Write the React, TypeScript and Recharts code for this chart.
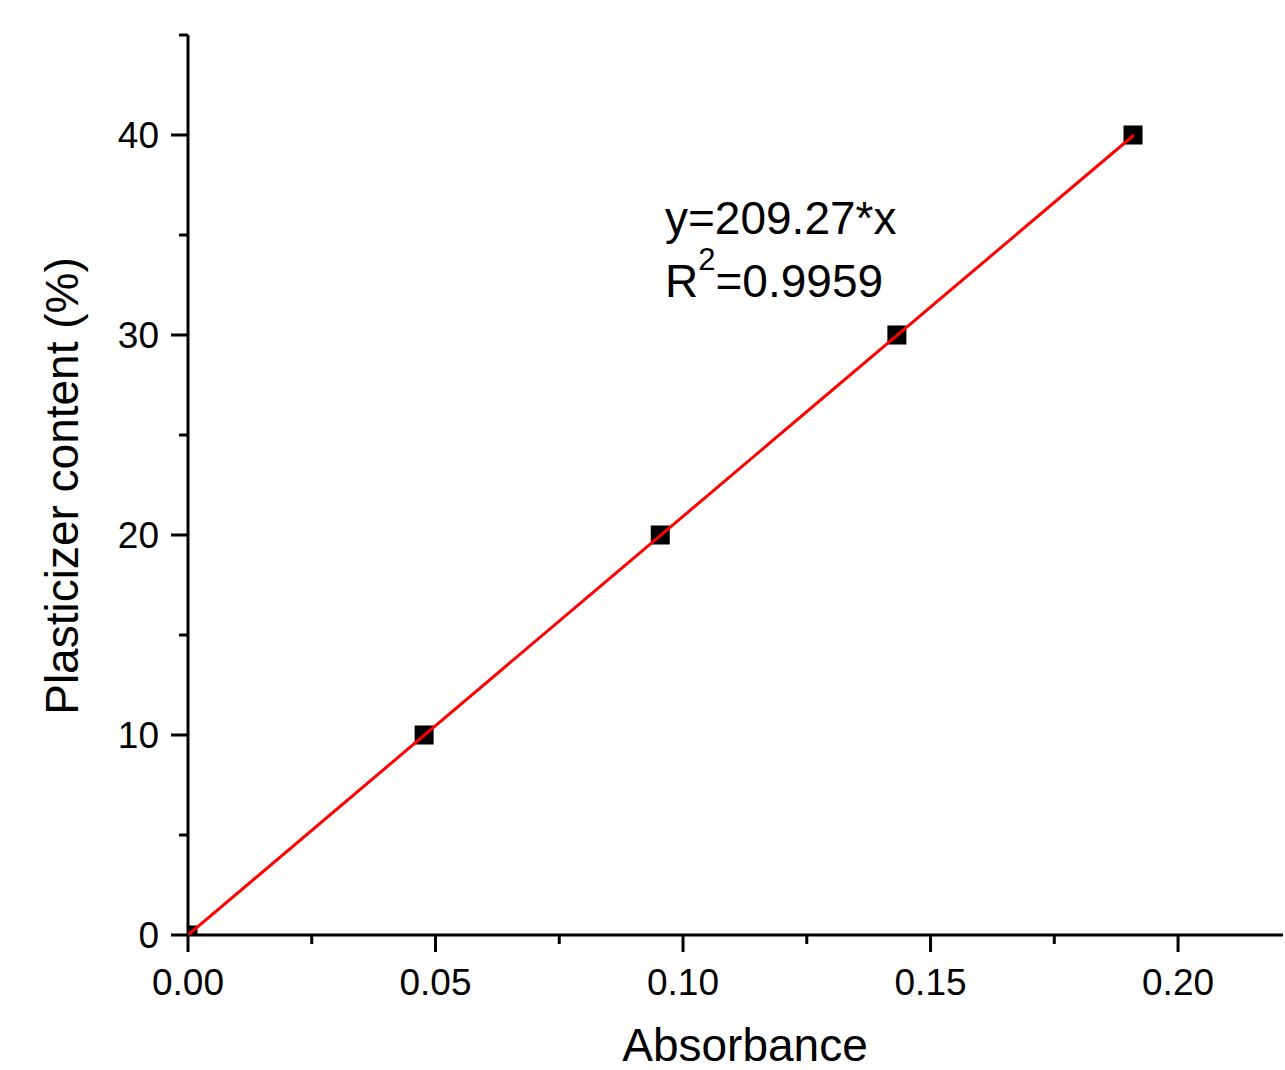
import React from 'react';
import { ScatterChart, Scatter, XAxis, YAxis, Customized } from 'recharts';

const absorbance = [0, 0.0477, 0.0954, 0.1432, 0.1909];
const content = [0, 10, 20, 30, 40];
const fitX = [0, 0.1911];
const fitY = [0, 40];
const xTicks = [0, 0.025, 0.05, 0.075, 0.1, 0.125, 0.15, 0.175, 0.2];
const yTicks = [0, 5, 10, 15, 20, 25, 30, 35, 40, 45];

const FONT = '"Liberation Sans", Arial, sans-serif';

const points = absorbance.map((x, i) => ({ x, y: content[i] }));
const fitLine = fitX.map((x, i) => ({ x, y: fitY[i] }));

const isMajor = (v: number, step: number) =>
  Math.abs(v / step - Math.round(v / step)) < 1e-6;

const XTick = ({ x, y, payload }: any) => {
  const major = isMajor(payload.value, 0.05);
  return (
    <g>
      <line x1={x} x2={x} y1={y} y2={y + (major ? 17 : 9)} stroke="#000" strokeWidth={3} />
      {major && (
        <text x={x} y={y + 60} textAnchor="middle" fontSize={37} fontFamily={FONT} fill="#000">
          {payload.value.toFixed(2)}
        </text>
      )}
    </g>
  );
};

const YTick = ({ x, y, payload }: any) => {
  const major = isMajor(payload.value, 10);
  return (
    <g>
      <line x1={x} x2={x - (major ? 17 : 9)} y1={y} y2={y} stroke="#000" strokeWidth={3} />
      {major && (
        <text x={x - 29} y={y + 13} textAnchor="end" fontSize={37} fontFamily={FONT} fill="#000">
          {payload.value}
        </text>
      )}
    </g>
  );
};

const Square = ({ cx, cy }: any) => (
  <rect x={cx - 9.5} y={cy - 9.5} width={19} height={19} fill="#000" />
);

const NoShape = () => <g />;

const Annotations = () => (
  <g fontFamily={FONT} fill="#000">
    <text x={665} y={234} fontSize={46}>y=209.27*x</text>
    <text x={665} y={297} fontSize={46}>
      R<tspan style={{ fontSize: 31 }} dy={-27}>2</tspan>
      <tspan dy={27}>=0.9959</tspan>
    </text>
    <text x={745} y={1061} fontSize={46} textAnchor="middle">Absorbance</text>
    <text
      x={78}
      y={486}
      fontSize={46}
      textAnchor="middle"
      transform="rotate(-90 78 486)"
    >
      Plasticizer content (%)
    </text>
  </g>
);

export default function App() {
  return (
    <div style={{ position: 'absolute', left: 0, top: 0, background: '#fff' }}>
      <ScatterChart
        width={1285}
        height={1070}
        margin={{ top: 35, right: 2, left: 0, bottom: 0 }}
      >
        <XAxis
          type="number"
          dataKey="x"
          domain={[0, 0.2212]}
          ticks={xTicks}
          interval={0}
          allowDataOverflow
          tickSize={0}
          tickMargin={0}
          tickLine={false}
          tick={<XTick />}
          axisLine={{ stroke: '#000', strokeWidth: 3 }}
          height={135}
        />
        <YAxis
          type="number"
          dataKey="y"
          domain={[0, 45]}
          ticks={yTicks}
          interval={0}
          allowDataOverflow
          tickSize={0}
          tickMargin={0}
          tickLine={false}
          tick={<YTick />}
          axisLine={{ stroke: '#000', strokeWidth: 3 }}
          width={188}
        />
        <Scatter data={points} shape={<Square />} isAnimationActive={false} />
        <Scatter
          data={fitLine}
          shape={<NoShape />}
          line={{ stroke: '#ff0000', strokeWidth: 3 }}
          lineType="joint"
          isAnimationActive={false}
        />
        <Customized component={Annotations} />
      </ScatterChart>
    </div>
  );
}
